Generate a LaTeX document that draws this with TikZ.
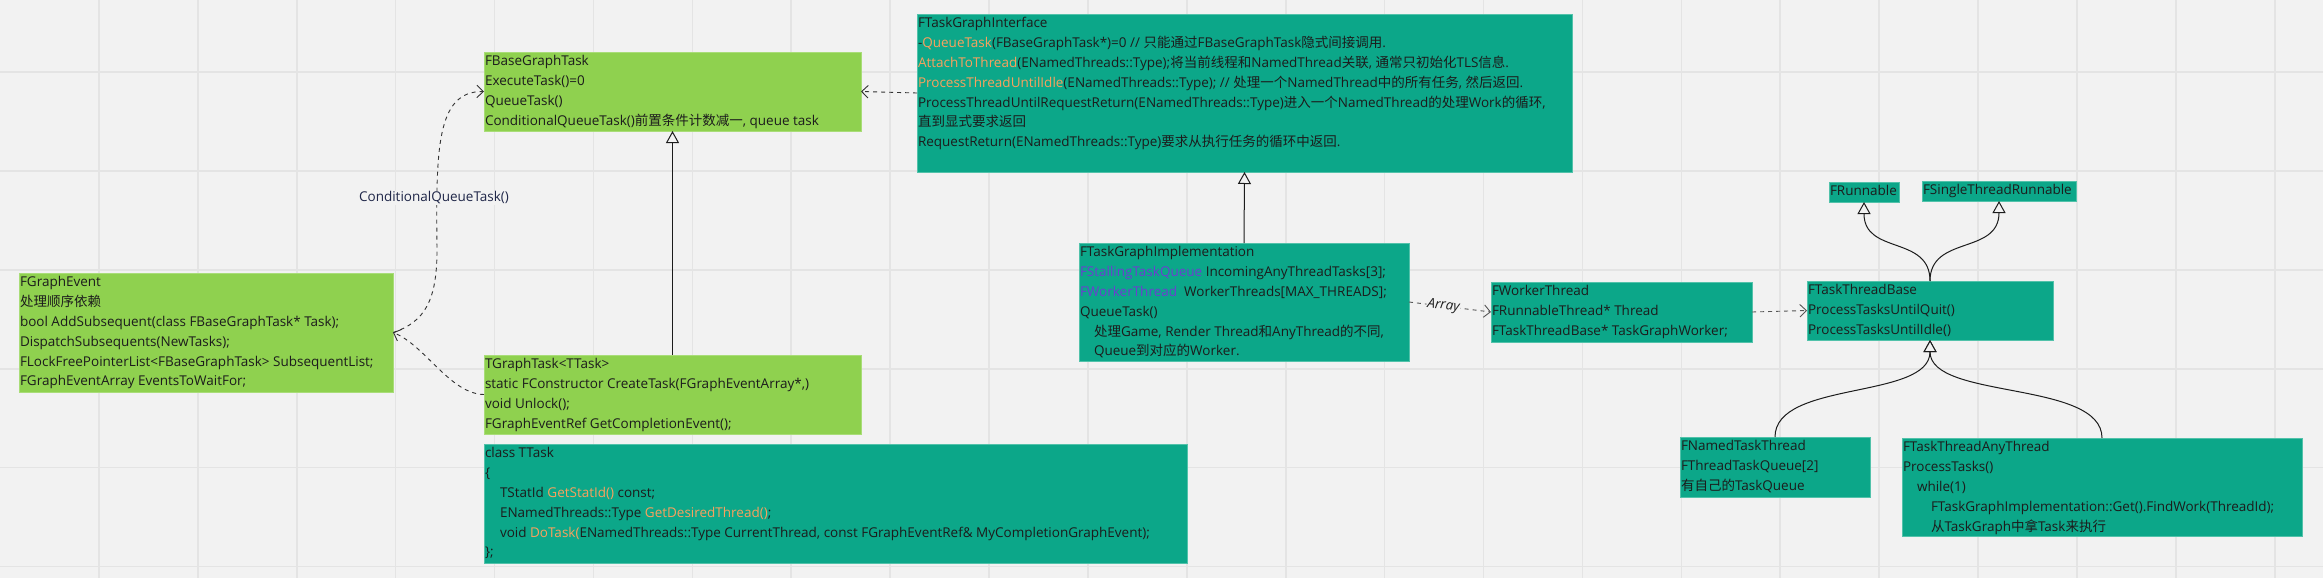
\documentclass[tikz,border=0pt]{standalone}
\usepackage{fontspec}
\setmainfont{Open Sans}
\newfontfamily\cjk{Noto Sans CJK SC}
\usetikzlibrary{arrows.meta}
\definecolor{bg}{HTML}{F2F2F2}
\definecolor{gridc}{HTML}{E4E4E4}
\definecolor{lgreen}{HTML}{8FD14F}
\definecolor{lgreenb}{HTML}{A9DD78}
\definecolor{tealbox}{HTML}{0CA789}
\definecolor{tealb}{HTML}{52C2AA}
\definecolor{ink}{HTML}{1C1C1C}
\definecolor{orng}{HTML}{F9A15E}
\definecolor{purp}{HTML}{6B3FD0}
\definecolor{navy}{HTML}{1F2648}
\definecolor{dgray}{HTML}{555555}
\newcommand{\fs}{\fontsize{13.5pt}{19.8pt}\selectfont}
\newcommand{\boxtext}[3]{\parbox[c][#2pt][t]{\dimexpr #1pt-2pt\relax}{\fs\strut #3}}
\newcommand{\og}[1]{\textcolor{orng}{#1}}
\newcommand{\pp}[1]{\textcolor{purp}{#1}}
\tikzset{
  cls/.style={anchor=north west, inner xsep=1pt, inner ysep=0pt, outer sep=0pt, text=ink, line width=0.8pt},
  gbox/.style={cls, fill=lgreen, draw=lgreenb},
  tbox/.style={cls, fill=tealbox, draw=tealb},
  dep/.style={draw=ink!90, line width=0.9pt, dash pattern=on 4pt off 4pt, -{Straight Barb[length=6.5pt,width=12.5pt,line width=0.9pt]}},
  depg/.style={dep, draw=dgray},
  inh/.style={draw=ink, line width=1pt, -{Triangle[open, length=12pt, width=13pt, fill=bg, line width=1pt]}},
  lbl/.style={fill=bg, inner sep=1pt, text=navy, font=\fs},
}
\begin{document}
\begin{tikzpicture}[x=1pt,y=-1pt]
\useasboundingbox (0,0) rectangle (2323,578);
\fill[bg] (0,0) rectangle (2323,578);
\foreach \i in {1,...,23} \draw[gridc, line width=1.6pt] (\i*98.9,0) -- (\i*98.9,578);
\foreach \j in {0,...,5} \draw[gridc, line width=1.6pt] (0,72+\j*98.9) -- (2323,72+\j*98.9);

% green boxes
\node[gbox] (ge) at (19,273) {\boxtext{374}{119}{FGraphEvent\\{\cjk 处理顺序依赖}\\bool AddSubsequent(class FBaseGraphTask* Task);\\DispatchSubsequents(NewTasks);\\FLockFreePointerList<FBaseGraphTask> SubsequentList;\\FGraphEventArray EventsToWaitFor;}};
\node[gbox] (bgt) at (484,52) {\boxtext{377}{79}{FBaseGraphTask\\ExecuteTask()=0\\QueueTask()\\ConditionalQueueTask(){\cjk 前置条件计数减一}, queue task}};
\node[gbox] (tg) at (484,355) {\boxtext{377}{79}{TGraphTask<TTask>\\static FConstructor CreateTask(FGraphEventArray*,)\\void Unlock();\\FGraphEventRef GetCompletionEvent();}};

% teal boxes
\node[tbox] (tt) at (484,444) {\boxtext{703}{119}{class TTask\\\{\\\hspace*{15pt}TStatId \og{GetStatId()} const;\\\hspace*{15pt}ENamedThreads::Type \og{GetDesiredThread()};\\\hspace*{15pt}void \og{DoTask(}ENamedThreads::Type CurrentThread, const FGraphEventRef\& MyCompletionGraphEvent);\\\};}};
\node[tbox] (tgi) at (917,14) {\boxtext{655}{158}{FTaskGraphInterface\\-\og{QueueTask}(FBaseGraphTask*)=0 // {\cjk 只能通过}FBaseGraphTask{\cjk 隐式间接调用}.\\\og{AttachToThread}(ENamedThreads::Type);{\cjk 将当前线程和}NamedThread{\cjk 关联}, {\cjk 通常只初始化}TLS{\cjk 信息}.\\\og{ProcessThreadUntilIdle}(ENamedThreads::Type); // {\cjk 处理一个}NamedThread{\cjk 中的所有任务}, {\cjk 然后返回}.\\ProcessThreadUntilRequestReturn(ENamedThreads::Type){\cjk 进入一个}NamedThread{\cjk 的处理}Work{\cjk 的循环},\\{\cjk 直到显式要求返回}\\RequestReturn(ENamedThreads::Type){\cjk 要求从执行任务的循环中返回}.}};
\node[tbox] (impl) at (1079,243) {\boxtext{330}{118}{FTaskGraphImplementation\\\pp{FStallingTaskQueue} IncomingAnyThreadTasks[3];\\\pp{FWorkerThread}\ \ WorkerThreads[MAX\_THREADS];\\QueueTask()\\\hspace*{14pt}{\cjk 处理}Game, Render Thread{\cjk 和}AnyThread{\cjk 的不同},\\\hspace*{14pt}Queue{\cjk 到对应的}Worker.}};
\node[tbox] (wt) at (1491,282) {\boxtext{261}{60}{FWorkerThread\\FRunnableThread* Thread\\FTaskThreadBase* TaskGraphWorker;}};
\node[tbox] (ttb) at (1807,281) {\boxtext{246}{59}{FTaskThreadBase\\ProcessTasksUntilQuit()\\ProcessTasksUntilIdle()}};
\node[tbox] (fr) at (1829,182) {\boxtext{70}{20}{FRunnable}};
\node[tbox] (fstr) at (1922,181) {\boxtext{154}{20}{FSingleThreadRunnable}};
\node[tbox] (ntt) at (1680,437) {\boxtext{190}{60}{FNamedTaskThread\\FThreadTaskQueue[2]\\{\cjk 有自己的}TaskQueue}};
\node[tbox] (tta) at (1902,438) {\boxtext{400}{98}{FTaskThreadAnyThread\\ProcessTasks()\\\hspace*{14pt}while(1)\\\hspace*{28pt}FTaskGraphImplementation::Get().FindWork(ThreadId);\\\hspace*{28pt}{\cjk 从}TaskGraph{\cjk 中拿}Task{\cjk 来执行}}};

% connectors
\draw[dep] (ge.east) .. controls (425,322) and (437,300) .. (437,250) .. controls (436,150) and (436,91) .. (bgt.west);
\node[lbl] (cqt) at (434,198) {ConditionalQueueTask()};
\draw[dep] (tg.west) .. controls (450,394) and (425,345) .. (ge.east);
\draw[dep] (tgi.west) -- (bgt.east);
\draw[inh] (tg.north) -- (bgt.south);
\draw[inh] (impl.north) -- (tgi.south);
\draw[depg] (impl.east) -- node[pos=0.42, sloped, fill=bg, inner sep=1pt, text=ink, font=\fs\itshape] (arr) {Array} (wt.west);
\draw[depg] (wt.east) -- (ttb.west);
\draw[inh] (ttb.north) .. controls (1930,235) and (1864,255) .. (fr.south);
\draw[inh] (ttb.north) .. controls (1930,235) and (1999,255) .. (fstr.south);
\draw[inh] (ntt.north) .. controls (1775,380) and (1930,400) .. (ttb.south);
\draw[inh] (tta.north) .. controls (2102,380) and (1930,400) .. (ttb.south);
\end{tikzpicture}
\end{document}
